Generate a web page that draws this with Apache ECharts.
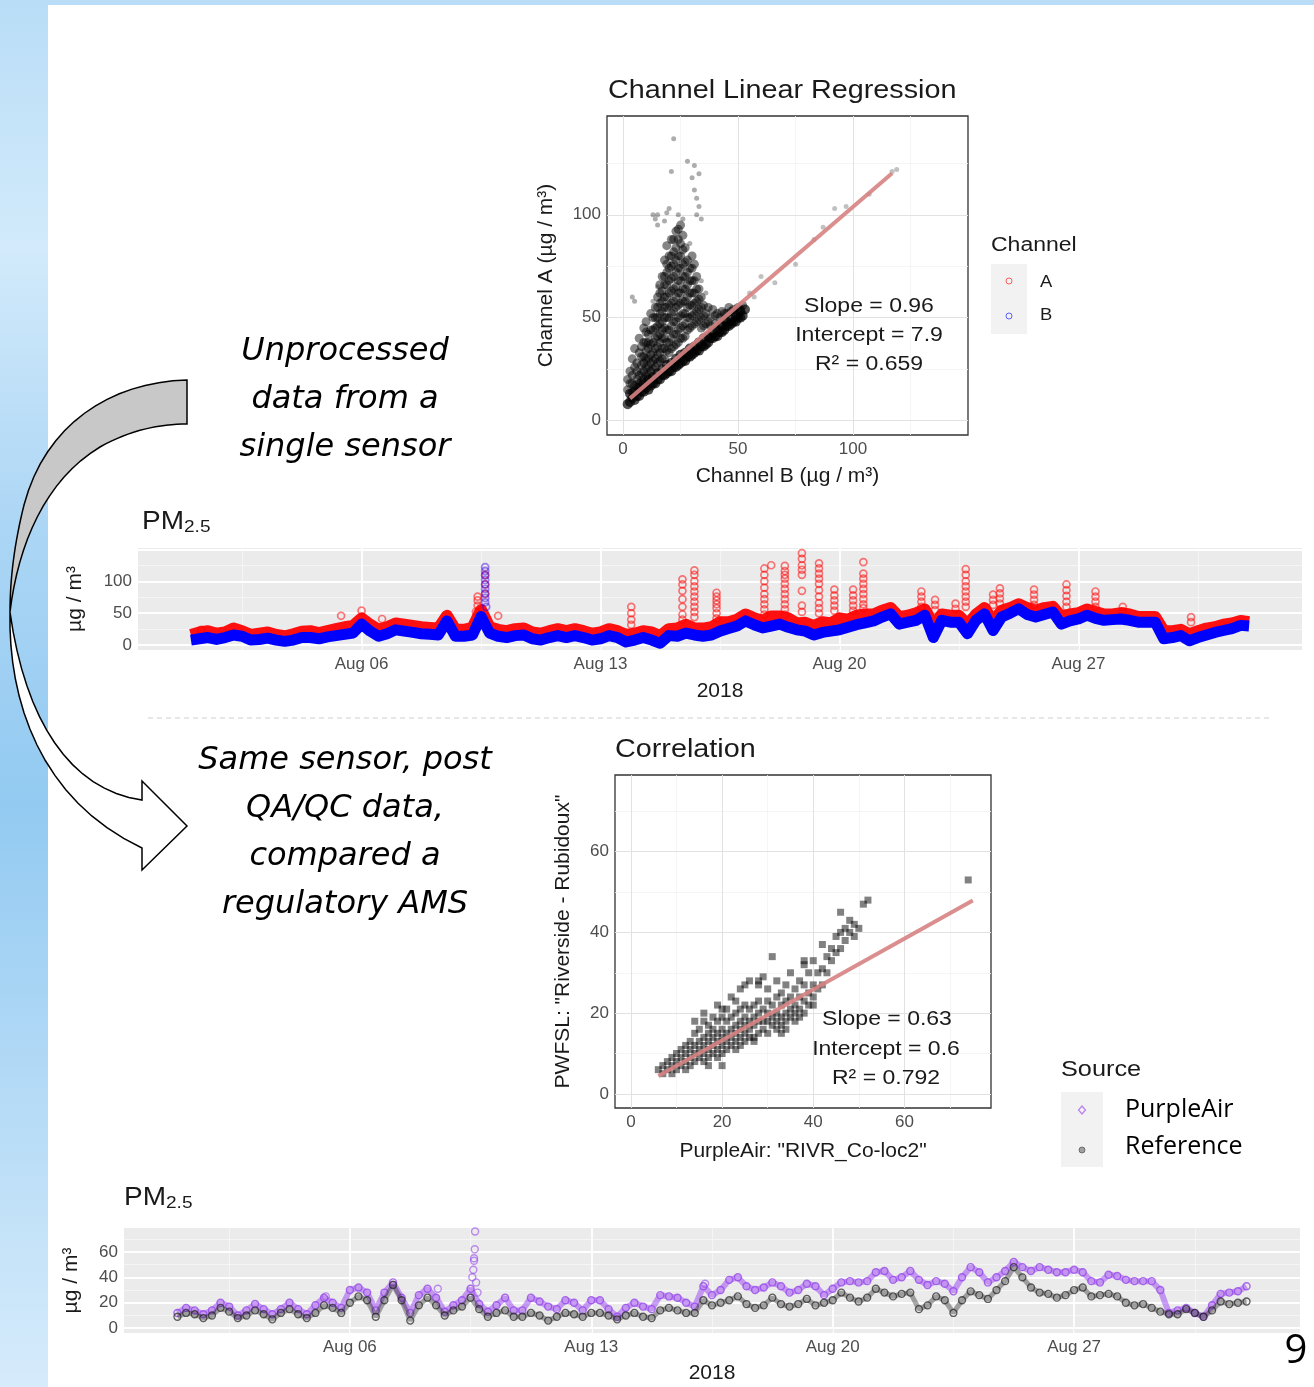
<!DOCTYPE html>
<html>
<head>
<meta charset="utf-8">
<script src="https://cdn.jsdelivr.net/npm/echarts@6/dist/echarts.min.js"></script>
<style>
html, body { margin: 0; padding: 0; }
body {
  width: 1314px; height: 1387px; position: relative; overflow: hidden;
  background: linear-gradient(180deg, #b9ddf7 0%, #d2eafb 18%, #acd6f5 38%, #93caf1 58%, #b3daf6 78%, #d6ebfb 100%);
}
#panel { position: absolute; left: 48px; top: 5px; right: 0; bottom: 0; background: #fff; }
#main { position: absolute; left: 0; top: 0; width: 1314px; height: 1387px; }
</style>
</head>
<body>
<div id="panel"></div>
<div id="main"></div>
<script>
// ---- data ----
const tickDays = [6, 13, 20, 27]
const tickLabels = ['Aug 06', 'Aug 13', 'Aug 20', 'Aug 27']
const minorDays = [2.5, 9.5, 16.5, 23.5, 30.5]
const tsStartDay = 1 // Aug 01 00:00, one value every 6 hours
const tsStepDays = 0.25

// channel B vs channel A (µg/m³) — scatter of raw sensor
const chanBandPairs = [[2, 8], [3, 9], [4, 11], [5, 10], [6, 12], [7, 12], [8, 14], [9, 14], [10, 16], [11, 15], [12, 17], [13, 18], [14, 18], [15, 20], [16, 20], [17, 22], [18, 22], [19, 23], [20, 24], [21, 24], [22, 26], [23, 26], [24, 27], [25, 28], [26, 29], [27, 29], [28, 31], [29, 31], [30, 32], [31, 33], [32, 34], [33, 34], [34, 36], [35, 36], [36, 37], [37, 38], [38, 40], [39, 40], [40, 41], [41, 41], [42, 43], [43, 43], [44, 44], [45, 46], [46, 46], [47, 47], [48, 48], [49, 48], [50, 50], [51, 50], [52, 51],
  [3, 13], [5, 14], [7, 16], [9, 18], [11, 20], [13, 21], [15, 23], [17, 25], [19, 27], [21, 28], [23, 30], [25, 32], [27, 33], [29, 35], [31, 36], [33, 38], [35, 40], [37, 41], [39, 43], [41, 44], [43, 46], [45, 48], [47, 49], [49, 51], [51, 53], [53, 54]]
const chanCloudPairs = [[2, 15], [2, 20], [3, 18], [3, 24], [4, 14], [4, 18], [4, 22], [4, 30], [5, 17], [5, 26], [5, 35], [6, 16], [6, 20], [6, 24], [6, 28], [7, 18], [7, 22], [7, 33], [7, 40],
  [8, 19], [8, 23], [8, 27], [8, 31], [8, 36], [9, 20], [9, 24], [9, 28], [9, 31], [9, 38], [9, 45], [10, 22], [10, 26], [10, 30], [10, 34], [10, 38], [10, 43], [10, 48],
  [11, 22], [11, 26], [11, 30], [11, 35], [11, 38], [11, 42], [12, 24], [12, 28], [12, 32], [12, 37], [12, 44], [12, 52], [13, 25], [13, 29], [13, 33], [13, 38], [13, 44], [13, 50],
  [14, 26], [14, 30], [14, 35], [14, 40], [14, 45], [14, 50], [14, 55], [15, 28], [15, 32], [15, 36], [15, 41], [15, 46], [15, 50], [15, 55], [15, 60],
  [16, 29], [16, 33], [16, 38], [16, 42], [16, 47], [16, 52], [16, 57], [16, 62], [16, 66], [17, 30], [17, 35], [17, 40], [17, 44], [17, 48], [17, 53], [17, 58], [17, 63], [17, 70],
  [18, 30], [18, 35], [18, 40], [18, 45], [18, 50], [18, 55], [18, 60], [18, 66], [18, 70], [18, 78], [19, 34], [19, 38], [19, 44], [19, 50], [19, 55], [19, 60], [19, 66], [19, 72], [19, 76], [19, 85],
  [20, 33], [20, 38], [20, 44], [20, 50], [20, 56], [20, 62], [20, 68], [20, 74], [20, 80], [21, 35], [21, 40], [21, 46], [21, 52], [21, 57], [21, 63], [21, 69], [21, 75], [21, 80], [21, 88],
  [22, 36], [22, 42], [22, 48], [22, 53], [22, 58], [22, 64], [22, 70], [22, 76], [22, 82], [22, 88], [23, 37], [23, 42], [23, 48], [23, 55], [23, 60], [23, 65], [23, 72], [23, 78], [23, 84], [23, 92],
  [24, 38], [24, 44], [24, 50], [24, 56], [24, 62], [24, 68], [24, 74], [24, 80], [24, 88], [24, 93], [25, 40], [25, 45], [25, 51], [25, 57], [25, 62], [25, 68], [25, 74], [25, 80], [25, 86], [25, 95],
  [26, 40], [26, 46], [26, 52], [26, 58], [26, 64], [26, 70], [26, 76], [26, 83], [26, 90], [27, 41], [27, 47], [27, 52], [27, 58], [27, 64], [27, 70], [27, 77], [27, 84],
  [28, 44], [28, 50], [28, 55], [28, 60], [28, 66], [28, 72], [28, 78], [29, 45], [29, 50], [29, 56], [29, 62], [29, 68], [29, 74], [30, 46], [30, 51], [30, 56], [30, 62], [30, 68], [30, 74], [30, 80],
  [31, 47], [31, 52], [31, 57], [31, 62], [31, 68], [31, 76], [32, 48], [32, 53], [32, 58], [32, 64], [32, 70], [33, 49], [33, 54], [33, 59], [33, 64], [34, 45], [34, 50], [34, 55], [34, 60], [35, 46], [35, 51], [35, 56],
  [36, 47], [36, 52], [37, 48], [37, 55], [38, 46], [38, 50], [39, 54], [40, 47], [40, 51], [41, 52], [42, 46], [42, 50], [43, 53], [44, 49], [44, 52], [45, 52], [46, 55], [47, 53], [48, 54], [49, 52], [50, 55], [51, 54], [52, 56]]
const chanSparsePairs = [[4, 60], [5, 58], [13, 58], [13, 100], [14, 98], [15, 65], [15, 95], [15, 100], [18, 97], [19, 101], [20, 103], [21, 121], [22, 137],
  [24, 100], [26, 98], [28, 126], [29, 86], [30, 118], [31, 124], [31, 112], [32, 108], [32, 100], [33, 120], [33, 104], [34, 98], [34, 68], [36, 62]]
const chanLinePairs = [[55, 62], [57, 60], [60, 70], [66, 67], [75, 76], [83, 88], [87, 94], [92, 103], [97, 104], [107, 110], [117, 121], [119, 122]]
const chanFit = [[3, 10.8], [117, 120.2]]

// raw time series, channel A and B
const chanA = [16, 20, 22, 18, 20, 26, 22, 16, 18, 20, 16, 14, 17, 21, 22, 19, 22, 25, 28, 30,
  42, 32, 24, 28, 34, 32, 30, 28, 27, 26, 46, 24, 24, 27, 55, 28, 24, 22, 25, 26,
  20, 18, 22, 25, 22, 25, 22, 18, 20, 25, 22, 16, 18, 22, 20, 14, 25, 26, 32, 26,
  26, 28, 36, 36, 40, 48, 42, 38, 45, 45, 42, 34, 35, 30, 36, 34, 42, 40, 46, 48,
  48, 54, 58, 44, 46, 50, 56, 30, 48, 46, 46, 32, 48, 58, 36, 54, 58, 64, 58, 54,
  58, 60, 44, 48, 50, 56, 52, 48, 48, 50, 48, 44, 44, 44, 22, 22, 24, 17, 22, 26,
  28, 32, 34, 38, 36]
const chanB = [8, 10, 12, 9, 12, 16, 14, 8, 9, 11, 8, 6, 8, 12, 12, 10, 13, 15, 17, 19,
  33, 22, 14, 18, 24, 22, 20, 18, 17, 16, 38, 14, 14, 16, 45, 19, 14, 12, 15, 16,
  10, 8, 12, 15, 12, 15, 12, 8, 10, 15, 12, 5, 8, 12, 8, 3, 15, 14, 19, 16,
  14, 16, 22, 26, 30, 38, 32, 27, 30, 33, 28, 24, 22, 16, 20, 22, 24, 28, 32, 35,
  38, 44, 49, 33, 36, 39, 47, 12, 39, 36, 36, 18, 39, 49, 23, 44, 50, 57, 48, 44,
  48, 52, 33, 38, 41, 47, 42, 39, 40, 41, 39, 36, 36, 36, 10, 12, 15, 7, 12, 16,
  20, 23, 26, 31, 30]
const chanASpikes = [[1.3, 24], [5.4, 46], [6.0, 54], [6.6, 41], [9.4, 76], [9.4, 70], [9.4, 62], [9.35, 52], [9.62, 110], [9.62, 95], [9.62, 80], [10.0, 46],
  [13.9, 60], [13.9, 50], [13.9, 40], [13.9, 32],
  [15.4, 103], [15.4, 95], [15.4, 85], [15.4, 72], [15.4, 60], [15.4, 48], [15.4, 40],
  [15.75, 117], [15.75, 110], [15.75, 100], [15.75, 92], [15.75, 84], [15.75, 76], [15.75, 68], [15.75, 60], [15.75, 52], [15.75, 44],
  [16.4, 82], [16.4, 76], [16.4, 70], [16.4, 64], [16.4, 58], [16.4, 50], [16.4, 42],
  [17.8, 120], [17.8, 110], [17.8, 100], [17.8, 90], [17.8, 80], [17.8, 72], [17.8, 64], [17.8, 56], [17.8, 48], [18.0, 125],
  [18.4, 124], [18.4, 116], [18.4, 110], [18.4, 104], [18.4, 96], [18.4, 88], [18.4, 80], [18.4, 72], [18.4, 64], [18.4, 56], [18.4, 48],
  [18.9, 144], [18.9, 135], [18.9, 125], [18.9, 118], [18.9, 110], [18.9, 85], [18.9, 62], [18.9, 52],
  [19.4, 128], [19.4, 120], [19.4, 112], [19.4, 104], [19.4, 96], [19.4, 86], [19.4, 76], [19.4, 66], [19.4, 58], [19.4, 50],
  [19.85, 87], [19.85, 78], [19.85, 70], [19.85, 62], [19.85, 54], [20.4, 87], [20.4, 78], [20.4, 70], [20.4, 62], [20.4, 54],
  [20.7, 130], [20.7, 112], [20.7, 104], [20.7, 96], [20.7, 88], [20.7, 80], [20.7, 72], [20.7, 64], [20.7, 58],
  [22.4, 84], [22.4, 76], [22.4, 68], [22.4, 60], [22.8, 71], [22.8, 63], [22.8, 55], [23.4, 65], [23.4, 57],
  [23.7, 119], [23.7, 110], [23.7, 100], [23.7, 92], [23.7, 84], [23.7, 76], [23.7, 68], [23.7, 60],
  [24.5, 79], [24.5, 71], [24.5, 63], [24.7, 89], [24.7, 81], [24.7, 73], [24.7, 65],
  [25.7, 87], [25.7, 79], [25.7, 71], [25.7, 63], [26.65, 95], [26.65, 86], [26.65, 77], [26.65, 68], [26.65, 60],
  [27.5, 84], [27.5, 76], [27.5, 68], [27.5, 60], [28.3, 60], [28.3, 53], [30.3, 44], [30.3, 36]]
const chanBSpikes = [[9.62, 122], [9.62, 116], [9.62, 109], [9.62, 102], [9.62, 95], [9.62, 88], [9.62, 81], [9.62, 74], [9.62, 67], [9.65, 60]]

// PurpleAir vs reference (µg/m³) — scatter after QA/QC
const corrPairs = [[6, 6], [7, 5], [7, 7], [8, 6], [8, 8], [9, 5], [9, 7], [9, 9], [10, 6], [10, 8], [10, 10], [11, 7], [11, 9], [11, 11], [12, 6], [12, 8], [12, 10], [12, 12],
  [13, 7], [13, 9], [13, 11], [13, 13], [14, 8], [14, 10], [14, 12], [14, 15], [14, 18], [15, 9], [15, 11], [15, 13], [15, 16], [16, 8], [16, 10], [16, 12], [16, 14], [16, 18], [16, 20],
  [17, 7], [17, 9], [17, 11], [17, 13], [17, 15], [17, 17], [18, 10], [18, 12], [18, 14], [18, 16], [18, 19], [19, 9], [19, 11], [19, 13], [19, 15], [19, 18], [19, 22],
  [20, 7], [20, 10], [20, 12], [20, 14], [20, 16], [20, 19], [20, 21], [21, 11], [21, 13], [21, 15], [21, 18], [21, 21], [22, 12], [22, 14], [22, 16], [22, 19], [22, 24],
  [23, 11], [23, 13], [23, 15], [23, 17], [23, 20], [23, 23], [24, 12], [24, 14], [24, 16], [24, 18], [24, 21], [24, 26], [25, 13], [25, 15], [25, 17], [25, 19], [25, 22], [25, 27],
  [26, 14], [26, 16], [26, 18], [26, 21], [26, 28], [27, 13], [27, 14], [27, 17], [27, 19], [27, 22], [28, 15], [28, 18], [28, 20], [28, 23], [28, 27], [28, 28],
  [29, 16], [29, 18], [29, 21], [29, 29], [30, 15], [30, 18], [30, 20], [30, 23], [30, 26], [31, 17], [31, 19], [31, 22], [31, 34],
  [32, 16], [32, 18], [32, 20], [32, 24], [32, 28], [33, 15], [33, 17], [33, 19], [33, 22], [33, 25], [34, 16], [34, 18], [34, 20], [34, 23], [34, 27],
  [35, 19], [35, 21], [35, 24], [35, 30], [36, 18], [36, 20], [36, 22], [36, 26], [37, 19], [37, 21], [37, 24], [37, 28], [38, 20], [38, 23], [38, 27], [38, 32], [38, 33],
  [39, 22], [39, 25], [39, 30], [40, 22], [40, 24], [40, 27], [40, 33], [41, 26], [41, 30], [42, 27], [42, 31], [42, 37], [43, 30], [43, 34], [44, 33], [44, 36],
  [45, 35], [45, 39], [46, 36], [46, 40], [46, 45], [47, 38], [47, 41], [48, 40], [48, 43], [49, 39], [49, 42], [50, 41], [51, 47], [52, 48], [74, 53]]
const corrFit = [[6, 4.4], [75, 47.9]]

// QA/QC time series, PurpleAir and reference monitor
const purpleAir = [12, 16, 14, 11, 14, 20, 17, 10, 14, 19, 15, 11, 15, 20, 15, 11, 18, 24, 20, 16,
  30, 32, 28, 14, 28, 36, 24, 12, 26, 31, 24, 13, 18, 22, 31, 19, 13, 18, 24, 14,
  14, 24, 21, 17, 15, 22, 20, 14, 22, 22, 15, 9, 16, 20, 17, 15, 26, 25, 24, 20,
  17, 33, 26, 30, 38, 40, 33, 30, 32, 36, 33, 28, 30, 35, 33, 26, 31, 36, 37, 36,
  37, 44, 45, 38, 40, 45, 38, 34, 37, 35, 29, 40, 48, 44, 36, 40, 45, 52, 48, 45,
  48, 46, 44, 44, 46, 44, 37, 36, 42, 41, 38, 37, 37, 37, 30, 12, 14, 16, 12, 9,
  18, 27, 28, 29, 33]
const reference = [9, 12, 11, 8, 10, 16, 13, 8, 10, 14, 11, 7, 12, 15, 11, 8, 12, 18, 16, 12,
  20, 25, 22, 9, 22, 34, 22, 6, 18, 24, 18, 10, 14, 17, 24, 15, 9, 12, 14, 9,
  9, 12, 10, 6, 9, 12, 11, 9, 12, 12, 10, 7, 10, 12, 9, 8, 14, 16, 14, 12,
  12, 22, 18, 20, 22, 25, 19, 16, 18, 24, 19, 17, 19, 23, 18, 20, 22, 28, 24, 21,
  24, 31, 28, 25, 27, 28, 15, 18, 25, 22, 12, 22, 29, 26, 23, 30, 37, 48, 40, 32,
  28, 27, 24, 26, 30, 32, 25, 26, 27, 25, 20, 18, 19, 16, 13, 11, 11, 15, 12, 9,
  14, 21, 19, 20, 21]
const purpleAirSpikes = [[9.55, 40], [9.58, 46], [9.6, 53], [9.6, 55], [9.62, 62], [9.63, 76], [9.66, 36], [9.7, 28], [8.55, 31], [5.3, 25], [16.3, 35]]

// ---- chart ----
const FONT = 'Liberation Sans'
const toPairs = values => values.map((v, i) => [tsStartDay + i * tsStepDays, v])

function gridLineSeries(idx, majorX, minorX, majorY, minorY, majorColor, minorColor, majorW, minorW) {
  const items = []
  const push = (key, vals, color, width) => vals.forEach(v => items.push({ [key]: v, lineStyle: { color: color, width: width, type: 'solid' } }))
  push('xAxis', minorX, minorColor, minorW)
  push('yAxis', minorY, minorColor, minorW)
  push('xAxis', majorX, majorColor, majorW)
  push('yAxis', majorY, majorColor, majorW)
  return {
    type: 'scatter', xAxisIndex: idx, yAxisIndex: idx, data: [], z: 1, silent: true,
    markLine: {
      silent: true, z: 1, animation: false, symbol: ['none', 'none'],
      label: { show: false }, emphasis: { disabled: true },
      lineStyle: { type: 'solid' }, data: items
    }
  }
}

function makeAxis(gridIndex, min, max, ticks, name, nameGap, fmt) {
  return {
    gridIndex: gridIndex, type: 'value', min: min, max: max,
    axisLine: { show: false }, splitLine: { show: false },
    axisTick: { show: true, customValues: ticks, length: 4, lineStyle: { color: '#333', width: 1 } },
    axisLabel: { customValues: ticks, color: '#4D4D4D', fontSize: 17, fontFamily: FONT, margin: 6, formatter: fmt },
    name: name, nameLocation: 'middle', nameGap: nameGap,
    nameTextStyle: { fontSize: 21, color: '#1a1a1a', fontFamily: FONT }
  }
}

const dayFmt = v => tickLabels[tickDays.indexOf(v)]
const hollow = (color, width) => ({ color: 'rgba(0,0,0,0)', borderColor: color, borderWidth: width })

// sample a chain of cubic bezier segments into polygon points (arrow outline only)
function bezierPoints(start, segs) {
  const pts = [start]
  let p0 = start
  segs.forEach(s => {
    if (s.length === 1) { pts.push(s[0]); p0 = s[0]; return }
    const [p1, p2, p3] = s
    for (let k = 1; k <= 16; k++) {
      const t = k / 16, u = 1 - t
      pts.push([
        u * u * u * p0[0] + 3 * u * u * t * p1[0] + 3 * u * t * t * p2[0] + t * t * t * p3[0],
        u * u * u * p0[1] + 3 * u * u * t * p1[1] + 3 * u * t * t * p2[1] + t * t * t * p3[1]
      ])
    }
    p0 = p3
  })
  return pts
}
const arrowBack = bezierPoints([187, 380], [
  [[110, 382], [45, 425], [24, 505]], [[14, 545], [10, 580], [10, 612]],
  [[18, 545], [45, 480], [100, 447]], [[130, 430], [160, 424], [187, 424]]])
const arrowFront = bezierPoints([10, 612], [
  [[8, 700], [40, 800], [142, 848]], [[142, 870]], [[187, 826]], [[142, 781]], [[142, 800]],
  [[70, 790], [25, 720], [10, 612]]])

function txt(x, y, text, size, opts) {
  return Object.assign({
    type: 'text', x: x, y: y, z: 100, scaleX: 1.15,
    style: { text: text, fontSize: size, fontFamily: FONT, fill: '#1a1a1a', align: 'left', verticalAlign: 'middle' }
  }, opts || {})
}
function ctxt(x, y, text, size) {
  const t = txt(x, y, text, size)
  t.style.align = 'center'
  return t
}
function note(x, y, text) {
  return {
    type: 'text', x: x, y: y, z: 100,
    style: { text: text, fontSize: 32, fontStyle: 'italic', fontFamily: 'DejaVu Sans', fill: '#000', align: 'center', verticalAlign: 'middle' }
  }
}
function pmTitle(x, y) {
  return {
    type: 'text', x: x, y: y, z: 100, scaleX: 1.12,
    style: {
      text: '{a|PM}{b|2.5}', fontFamily: FONT, fill: '#1a1a1a', verticalAlign: 'middle',
      rich: { a: { fontSize: 25, fontFamily: FONT, fill: '#1a1a1a' }, b: { fontSize: 17, fontFamily: FONT, fill: '#1a1a1a', padding: [10, 0, 0, 0] } }
    }
  }
}

const chart = echarts.init(document.getElementById('main'))

chart.setOption({
  animation: false,
  backgroundColor: 'transparent',
  textStyle: { fontFamily: FONT },
  grid: [
    { left: 607, top: 116, width: 361, height: 319, show: true, backgroundColor: '#fff', borderColor: '#333', borderWidth: 1.3, containLabel: false },
    { left: 138, top: 548, width: 1164, height: 102, show: true, backgroundColor: '#EBEBEB', borderWidth: 0, containLabel: false },
    { left: 615, top: 775, width: 376, height: 333, show: true, backgroundColor: '#fff', borderColor: '#333', borderWidth: 1.3, containLabel: false },
    { left: 124, top: 1228, width: 1176, height: 105, show: true, backgroundColor: '#EBEBEB', borderWidth: 0, containLabel: false }
  ],
  xAxis: [
    makeAxis(0, -7, 150, [0, 50, 100], 'Channel B (µg / m³)', 31),
    makeAxis(1, -0.55, 33.55, tickDays, '2018', 31, dayFmt),
    makeAxis(2, -3.5, 79, [0, 20, 40, 60], 'PurpleAir: "RIVR_Co-loc2"', 33),
    makeAxis(3, -0.55, 33.55, tickDays, '2018', 30, dayFmt)
  ],
  yAxis: [
    makeAxis(0, -7, 148, [0, 50, 100], 'Channel A (µg / m³)', 50),
    makeAxis(1, -7.5, 152, [0, 50, 100], 'µg / m³', 52),
    makeAxis(2, -3.5, 79, [0, 20, 40, 60], 'PWFSL: "Riverside - Rubidoux"', 41),
    makeAxis(3, -3.75, 78.75, [0, 20, 40, 60], 'µg / m³', 42)
  ],
  series: [
    // channel regression
    gridLineSeries(0, [0, 50, 100], [25, 75, 125], [0, 50, 100], [25, 75, 125], '#E2E2E2', '#F2F2F2', 1, 0.8),
    { type: 'scatter', xAxisIndex: 0, yAxisIndex: 0, data: chanSparsePairs, symbolSize: 5, itemStyle: { color: 'rgba(0,0,0,0.4)' }, z: 3 },
    { type: 'scatter', xAxisIndex: 0, yAxisIndex: 0, data: chanCloudPairs, symbolSize: 9, itemStyle: { color: 'rgba(0,0,0,0.6)' }, z: 3 },
    { type: 'scatter', xAxisIndex: 0, yAxisIndex: 0, data: chanBandPairs, symbolSize: 10, itemStyle: { color: 'rgba(0,0,0,0.85)' }, z: 3 },
    { type: 'scatter', xAxisIndex: 0, yAxisIndex: 0, data: chanLinePairs, symbolSize: 5, itemStyle: { color: 'rgba(0,0,0,0.3)' }, z: 3 },
    { type: 'line', xAxisIndex: 0, yAxisIndex: 0, data: chanFit, symbol: 'none', lineStyle: { color: 'rgba(214,130,130,0.9)', width: 4 }, z: 5 },

    // raw time series
    gridLineSeries(1, tickDays, minorDays, [0, 50, 100, 150], [25, 75, 125], '#FFFFFF', '#F6F6F6', 1.8, 0.9),
    { type: 'line', xAxisIndex: 1, yAxisIndex: 1, data: toPairs(chanA), symbol: 'none', lineStyle: { color: '#FF1010', width: 12, join: 'round' }, z: 3 },
    { type: 'scatter', xAxisIndex: 1, yAxisIndex: 1, data: chanASpikes, symbol: 'circle', symbolSize: 7, itemStyle: hollow('rgba(255,0,0,0.65)', 1.7), z: 3 },
    { type: 'line', xAxisIndex: 1, yAxisIndex: 1, data: toPairs(chanB), symbol: 'none', lineStyle: { color: '#0000FF', width: 11, join: 'round' }, z: 4 },
    { type: 'scatter', xAxisIndex: 1, yAxisIndex: 1, data: chanBSpikes, symbol: 'circle', symbolSize: 7, itemStyle: hollow('rgba(60,0,230,0.6)', 1.8), z: 4 },

    // correlation
    gridLineSeries(2, [0, 20, 40, 60], [10, 30, 50, 70], [0, 20, 40, 60], [10, 30, 50, 70], '#E2E2E2', '#F2F2F2', 1, 0.8),
    { type: 'scatter', xAxisIndex: 2, yAxisIndex: 2, data: corrPairs, symbol: 'rect', symbolSize: 7, itemStyle: { color: 'rgba(0,0,0,0.62)' }, z: 3 },
    { type: 'line', xAxisIndex: 2, yAxisIndex: 2, data: corrFit, symbol: 'none', lineStyle: { color: 'rgba(214,130,130,0.9)', width: 4 }, z: 5 },

    // QA/QC time series
    gridLineSeries(3, tickDays, minorDays, [0, 20, 40, 60], [10, 30, 50, 70], '#FFFFFF', '#F6F6F6', 1.8, 0.9),
    { type: 'line', xAxisIndex: 3, yAxisIndex: 3, data: toPairs(purpleAir), symbol: 'circle', symbolSize: 7, showSymbol: true,
      lineStyle: { color: 'rgba(160,80,240,0.55)', width: 6 }, itemStyle: hollow('rgba(150,70,235,0.8)', 1.4), z: 3 },
    { type: 'scatter', xAxisIndex: 3, yAxisIndex: 3, data: purpleAirSpikes, symbol: 'circle', symbolSize: 7, itemStyle: hollow('rgba(150,70,235,0.75)', 1.4), z: 3 },
    { type: 'line', xAxisIndex: 3, yAxisIndex: 3, data: toPairs(reference), symbol: 'circle', symbolSize: 7, showSymbol: true,
      lineStyle: { color: 'rgba(40,40,40,0.4)', width: 5 }, itemStyle: hollow('rgba(30,30,30,0.7)', 1.3), z: 4 }
  ],
  graphic: [
    // curved arrow between the two annotations
    { type: 'polygon', z: 90, shape: { points: arrowBack }, style: { fill: '#C8C8C8', stroke: '#000', lineWidth: 1.5 } },
    { type: 'polygon', z: 91, shape: { points: arrowFront }, style: { fill: '#FFFFFF', stroke: '#000', lineWidth: 1.5 } },

    note(345, 352, 'Unprocessed'),
    note(345, 400, 'data from a'),
    note(345, 448, 'single sensor'),
    note(345, 761, 'Same sensor, post'),
    note(345, 809, 'QA/QC data,'),
    note(345, 857, 'compared a'),
    note(345, 905, 'regulatory AMS'),

    txt(608, 91, 'Channel Linear Regression', 25),
    ctxt(869, 306, 'Slope = 0.96', 20),
    ctxt(869, 335, 'Intercept = 7.9', 20),
    ctxt(869, 364, 'R² = 0.659', 20),
    txt(991, 245, 'Channel', 20),
    { type: 'rect', z: 95, shape: { x: 991, y: 264, width: 36, height: 70 }, style: { fill: '#F2F2F2' } },
    { type: 'circle', z: 96, shape: { cx: 1009, cy: 281, r: 3 }, style: { fill: 'none', stroke: 'rgba(255,0,0,0.6)', lineWidth: 1 } },
    { type: 'circle', z: 96, shape: { cx: 1009, cy: 316, r: 3 }, style: { fill: 'none', stroke: 'rgba(0,0,255,0.6)', lineWidth: 1 } },
    txt(1040, 283, 'A', 16),
    txt(1040, 316, 'B', 16),

    pmTitle(142, 522),
    { type: 'line', z: 95, shape: { x1: 148, y1: 718, x2: 1272, y2: 718 }, style: { stroke: '#CFCFCF', lineWidth: 1, lineDash: [5, 4] } },

    txt(615, 750, 'Correlation', 25),
    ctxt(887, 1019, 'Slope = 0.63', 20),
    ctxt(886, 1049, 'Intercept = 0.6', 20),
    ctxt(886, 1078, 'R² = 0.792', 20),
    txt(1061, 1070, 'Source', 22),
    { type: 'rect', z: 95, shape: { x: 1061, y: 1092, width: 42, height: 75 }, style: { fill: '#F2F2F2' } },
    { type: 'polygon', z: 96, shape: { points: [[1082, 1106], [1085.5, 1110], [1082, 1114], [1078.5, 1110]] }, style: { fill: 'none', stroke: 'rgba(160,80,240,0.7)', lineWidth: 1.2 } },
    { type: 'circle', z: 96, shape: { cx: 1082, cy: 1150, r: 3 }, style: { fill: 'rgba(60,60,60,0.45)', stroke: 'rgba(60,60,60,0.6)', lineWidth: 1 } },
    { type: 'text', x: 1125, y: 1110, z: 100, style: { text: 'PurpleAir', fontSize: 25, fontFamily: 'Open Sans', fill: '#000', verticalAlign: 'middle' } },
    { type: 'text', x: 1125, y: 1147, z: 100, style: { text: 'Reference', fontSize: 25, fontFamily: 'Open Sans', fill: '#000', verticalAlign: 'middle' } },

    pmTitle(124, 1198),
    { type: 'text', x: 1296, y: 1352, z: 100, style: { text: '9', fontSize: 40, fontFamily: 'Open Sans', fill: '#000', align: 'center', verticalAlign: 'middle' } }
  ]
})
</script>
</body>
</html>
